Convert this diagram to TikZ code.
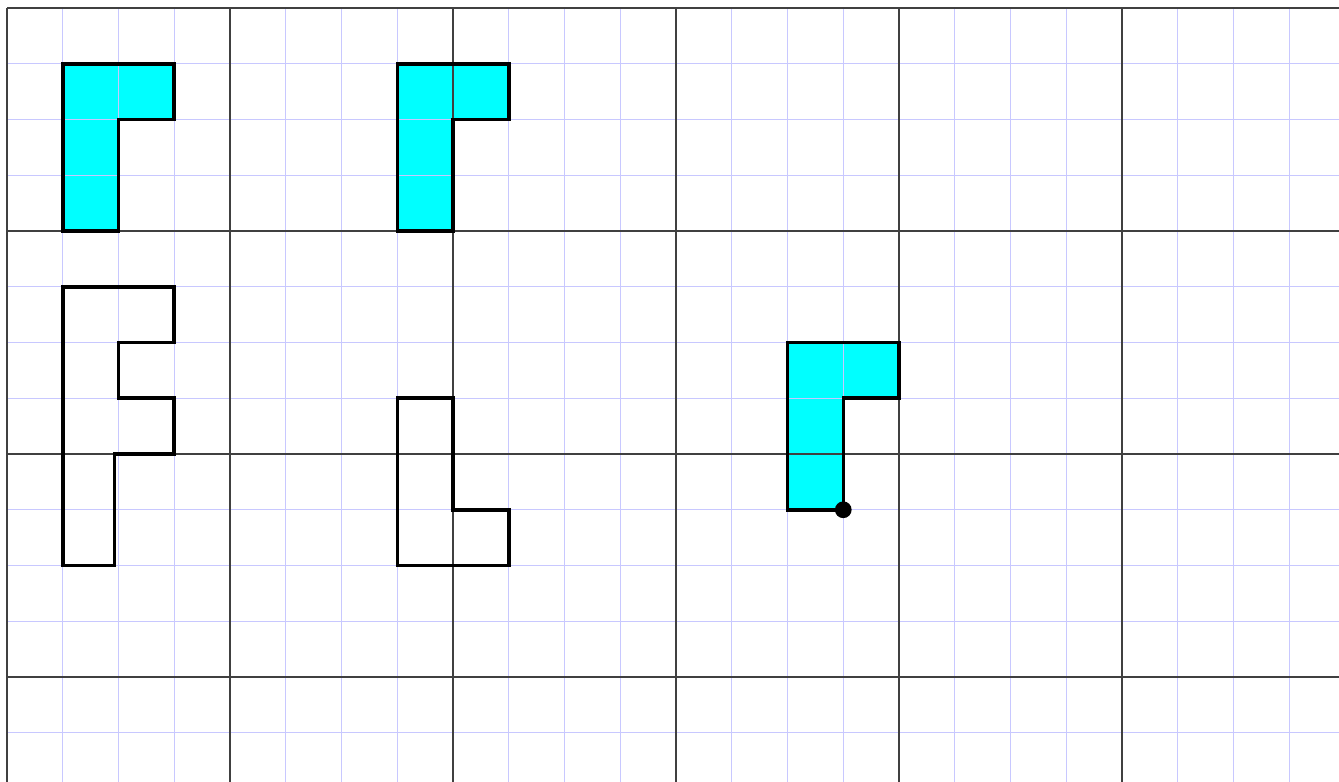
\documentclass[tikz,border=0pt]{standalone}
\definecolor{gridblue}{RGB}{200,200,255}
\definecolor{tcyan}{RGB}{0,255,255}
\tikzset{
  finegrid/.style={draw=gridblue, line width=0.5pt},
  coarsegrid/.style={draw=black!75, line width=0.7pt},
  cyanfill/.style={fill=tcyan},
  outline/.style={draw=black, line width=1.8pt, line join=miter},
  dotpt/.style={circle, fill=black, inner sep=0pt, minimum size=0.3cm}
}
\begin{document}
\begin{tikzpicture}[x=1cm,y=1cm]
\useasboundingbox (-0.1256,0.1435) rectangle (23.892,-13.883);
\clip (-0.1256,0.1435) rectangle (23.892,-13.883);
% cyan fills
\fill[cyanfill] (1,-1) -- (3,-1) -- (3,-2) -- (2,-2) -- (2,-4) -- (1,-4) -- cycle;
\fill[cyanfill] (7,-1) -- (9,-1) -- (9,-2) -- (8,-2) -- (8,-4) -- (7,-4) -- cycle;
\fill[cyanfill] (14,-6) -- (16,-6) -- (16,-7) -- (15,-7) -- (15,-9) -- (14,-9) -- cycle;
% grids
\draw[finegrid] (0,0) grid[step=1] (24,-14);
\draw[coarsegrid] (0,0) grid[step=4] (24,-14);
% outlines
\draw[outline] (1,-1) -- (3,-1) -- (3,-2) -- (2,-2) -- (2,-4) -- (1,-4) -- cycle;
\draw[outline] (7,-1) -- (9,-1) -- (9,-2) -- (8,-2) -- (8,-4) -- (7,-4) -- cycle;
\draw[outline] (1,-5) -- (3,-5) -- (3,-6) -- (2,-6) -- (2,-7) -- (3,-7) -- (3,-8) -- (1.93,-8) -- (1.93,-10) -- (1,-10) -- cycle;
\draw[outline] (7,-7) -- (8,-7) -- (8,-9) -- (9,-9) -- (9,-10) -- (7,-10) -- cycle;
\draw[outline] (14,-6) -- (16,-6) -- (16,-7) -- (15,-7) -- (15,-9) -- (14,-9) -- cycle;
\node[dotpt] (p) at (15,-9) {};
\end{tikzpicture}
\end{document}
